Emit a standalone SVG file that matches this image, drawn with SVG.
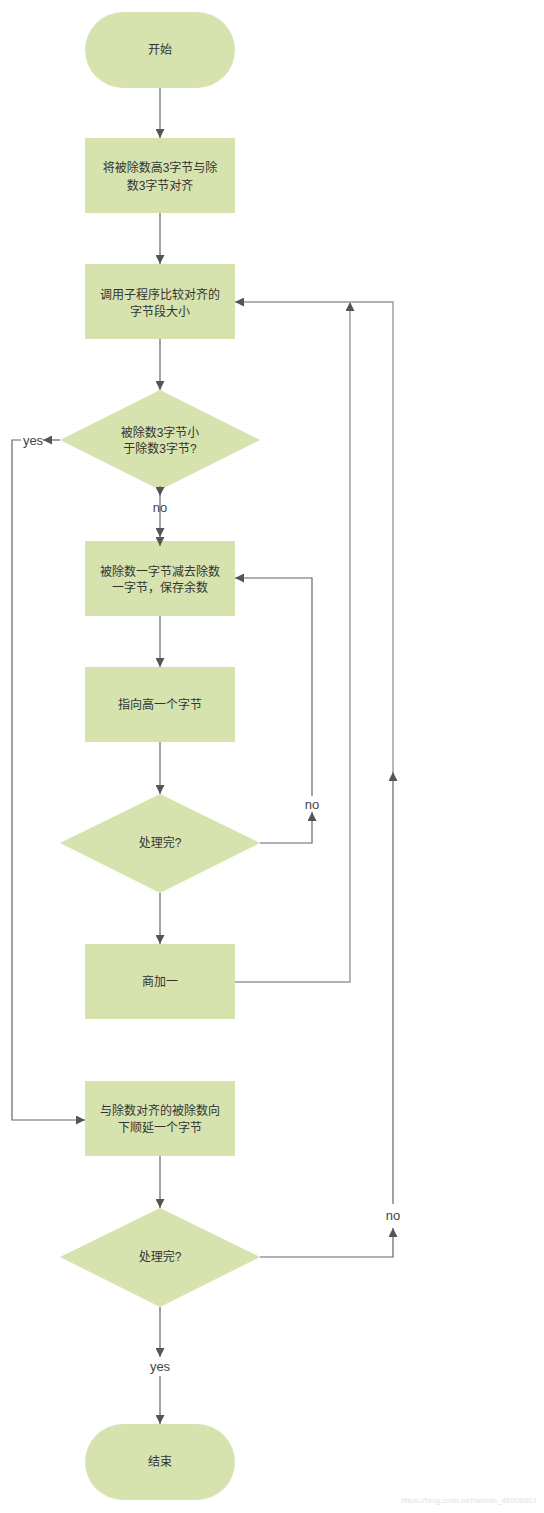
<svg xmlns="http://www.w3.org/2000/svg" width="544" height="1513" viewBox="0 0 544 1513">
<defs>
<marker id="ah" viewBox="0 0 10 10" refX="10" refY="5" markerWidth="9" markerHeight="9" markerUnits="userSpaceOnUse" orient="auto">
<path d="M0 0 L10 5 L0 10 Z" fill="#555"/>
</marker>
</defs>
<style>
.n{fill:#d7e3ae;stroke:none}
.t{font-family:"Liberation Sans","Noto Sans CJK SC",sans-serif;font-size:12px;fill:#333;text-anchor:middle}
.l{font-family:"Liberation Sans","Noto Sans CJK SC",sans-serif;font-size:13px;fill:#444;text-anchor:middle}
.c{fill:none;stroke:#666;stroke-width:1.2}
.c2{fill:none;stroke:#999;stroke-width:1.4}
.a{marker-end:url(#ah)}
</style>
<rect width="544" height="1513" fill="#fff"/>
<g id="start"><rect class="n" x="85" y="12" width="150" height="76" rx="38" ry="38"/><text class="t" x="160" y="54">开始</text></g>
<g id="align"><rect class="n" x="85" y="138" width="150" height="75"/><text class="t" x="160" y="172">将被除数高3字节与除</text><text class="t" x="160" y="190">数3字节对齐</text></g>
<g id="compare"><rect class="n" x="85" y="264" width="150" height="75"/><text class="t" x="160" y="299">调用子程序比较对齐的</text><text class="t" x="160" y="316">字节段大小</text></g>
<g id="decision1"><polygon class="n" points="160,390 260,440 160,490 60,440"/><text class="t" x="160" y="437">被除数3字节小</text><text class="t" x="160" y="453">于除数3字节?</text></g>
<g id="subtract"><rect class="n" x="85" y="541" width="150" height="75"/><text class="t" x="160" y="576">被除数一字节减去除数</text><text class="t" x="160" y="592">一字节，保存余数</text></g>
<g id="next"><rect class="n" x="85" y="667" width="150" height="75"/><text class="t" x="160" y="709">指向高一个字节</text></g>
<g id="decision2"><polygon class="n" points="160,794 260,843 160,893 60,843"/><text class="t" x="160" y="847">处理完?</text></g>
<g id="inc"><rect class="n" x="85" y="944" width="150" height="75"/><text class="t" x="160" y="986">商加一</text></g>
<g id="shift"><rect class="n" x="85" y="1081" width="150" height="75"/><text class="t" x="160" y="1115">与除数对齐的被除数向</text><text class="t" x="160" y="1132">下顺延一个字节</text></g>
<g id="decision3"><polygon class="n" points="160,1208 260,1257 160,1307 60,1257"/><text class="t" x="160" y="1261">处理完?</text></g>
<g id="end"><rect class="n" x="85" y="1424" width="150" height="76" rx="38" ry="38"/><text class="t" x="160" y="1466">结束</text></g>
<g id="connectors">
<path class="c a" d="M160 88 V138"/>
<path class="c a" d="M160 213 V264"/>
<path class="c a" d="M160 339 V390"/>
<path class="c a" d="M160 486 V496"/>
<path class="c a" d="M160 496 V537"/>
<path class="c a" d="M160 537 V546"/>
<path class="c a" d="M60 440 H43"/>
<path class="c a" d="M21 440 H12 V1120 H85"/>
<path class="c a" d="M160 616 V667"/>
<path class="c a" d="M160 742 V794"/>
<path class="c a" d="M260 843 H312 V812"/>
<path class="c a" d="M312 796 V578 H235"/>
<path class="c a" d="M160 893 V944"/>
<path class="c2 a" d="M235 982 H350 V302"/>
<path class="c a" d="M160 1156 V1208"/>
<path class="c a" d="M260 1257 H393 V1228"/>
<path class="c a" d="M393 1204 V772"/>
<path class="c2 a" d="M393 772 V302 H235"/>
<path class="c a" d="M160 1307 V1357"/>
<path class="c a" d="M160 1376 V1424"/>
<text class="l" x="33" y="445">yes</text>
<text class="l" x="160" y="512">no</text>
<text class="l" x="312" y="809">no</text>
<text class="l" x="393" y="1220">no</text>
<text class="l" x="160" y="1371">yes</text>
</g>
<text x="537" y="1503" font-family="Liberation Sans, sans-serif" font-size="8" fill="#e2e2e2" text-anchor="end">https://blog.csdn.net/weixin_45906607</text>
</svg>
